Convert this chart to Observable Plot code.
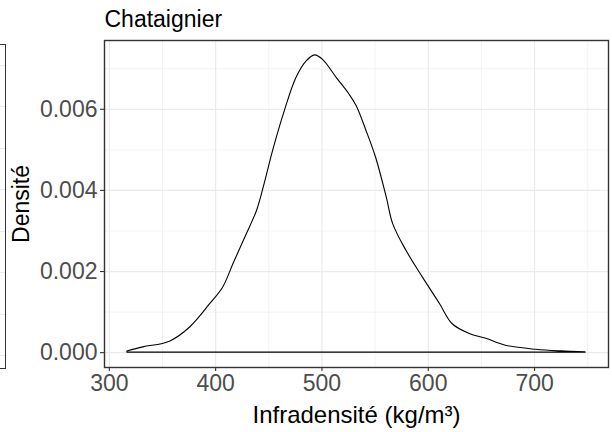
<!DOCTYPE html>
<html>
<head>
<meta charset="utf-8">
<script src="https://cdn.jsdelivr.net/npm/d3@7"></script>
<script src="https://cdn.jsdelivr.net/npm/@observablehq/plot@0.6"></script>
<style>
  body { margin: 0; background: #fff; font-family: "Liberation Sans", Arial, sans-serif; }
  #wrap { position: relative; width: 612px; height: 432px; overflow: hidden; }
  #ghost {
    position: absolute; left: -12px; top: 44px; width: 18px; height: 325px;
    border: 1.5px solid #333; box-sizing: border-box; background: #fff;
    background-image: repeating-linear-gradient(to bottom, transparent 0px, transparent 19.5px, #EBEBEB 19.5px, #EBEBEB 20.7px, transparent 20.7px, transparent 41.5px);
  }
  #chart { position: absolute; left: 0; top: 0; }
</style>
</head>
<body>
<div id="wrap"><div id="ghost"></div><div id="chart"></div></div>
<script>
// Density estimate (Chataignier)
const infradensite = [317, 332, 357, 376, 395, 407, 417, 429, 439, 446.5, 454, 465, 476, 485.6, 493.4, 501, 514, 526, 532.6, 542, 551, 561, 567, 579.5, 595, 611, 623, 639, 654.6, 673, 701.6, 725, 748];
const densite = [0.00003, 0.00013, 0.00027, 0.00062, 0.0012, 0.0016, 0.0022, 0.0029, 0.0035, 0.0042, 0.00497, 0.00595, 0.00677, 0.00718, 0.00733, 0.00722, 0.00677, 0.00636, 0.00608, 0.00546, 0.0048, 0.00382, 0.00317, 0.00251, 0.00185, 0.0012, 0.0007, 0.00046, 0.00034, 0.00017, 0.00007, 0.00003, 0.00001];
const xTicks = [300, 400, 500, 600, 700];
const xMinor = [350, 450, 550, 650, 750];
const yTicks = [0, 0.002, 0.004, 0.006];
const yMinor = [0.001, 0.003, 0.005, 0.007];
const titre = "Chataignier";
const xTitre = "Infradensité (kg/m³)";
const yTitre = "Densité";

const data = infradensite.map((x, i) => ({x, y: densite[i]}));
const ymax = d3.max(densite);
const xr = [d3.min(infradensite), d3.max(infradensite)];
const xpad = (xr[1] - xr[0]) * 0.05;

const chart = Plot.plot({
  width: 612,
  height: 432,
  marginLeft: 104,
  marginRight: 4,
  marginTop: 40,
  marginBottom: 65,
  style: { fontFamily: "'Liberation Sans', Arial, sans-serif", background: "transparent" },
  x: { domain: [xr[0] - xpad, xr[1] + xpad] },
  y: { domain: [-0.05 * ymax, 1.05 * ymax] },
  marks: [
    Plot.gridX(xMinor, { stroke: "#EBEBEB", strokeOpacity: 1, strokeWidth: 0.6 }),
    Plot.gridY(yMinor, { stroke: "#EBEBEB", strokeOpacity: 1, strokeWidth: 0.6 }),
    Plot.gridX(xTicks, { stroke: "#EBEBEB", strokeOpacity: 1, strokeWidth: 1.2 }),
    Plot.gridY(yTicks, { stroke: "#EBEBEB", strokeOpacity: 1, strokeWidth: 1.2 }),
    Plot.areaY(data, { x: "x", y: "y", fill: "none", stroke: "black", strokeWidth: 1.1, curve: "catmull-rom" }),
    Plot.frame({ stroke: "#333333", strokeWidth: 1.4 }),
    Plot.axisX(xTicks, { tickSize: 4, tickPadding: 3, stroke: "#333333", strokeWidth: 1.1, fontSize: 23, fill: "#4D4D4D", label: null }),
    Plot.axisY(yTicks, { tickSize: 4, tickPadding: 3, stroke: "#333333", strokeWidth: 1.1, fontSize: 23, fill: "#4D4D4D", tickFormat: d3.format(".3f"), label: null }),
    Plot.text([titre], { frameAnchor: "top-left", dy: -21, dx: 0, fontSize: 23, fill: "black", textAnchor: "start", lineAnchor: "middle" }),
    Plot.text([xTitre], { frameAnchor: "bottom", dy: 48, fontSize: 24, fill: "black", textAnchor: "middle", lineAnchor: "middle" }),
    Plot.text([yTitre], { frameAnchor: "left", dx: -83, rotate: -90, fontSize: 23, fill: "black", textAnchor: "middle", lineAnchor: "middle" })
  ]
});
document.getElementById("chart").appendChild(chart);
</script>
</body>
</html>
